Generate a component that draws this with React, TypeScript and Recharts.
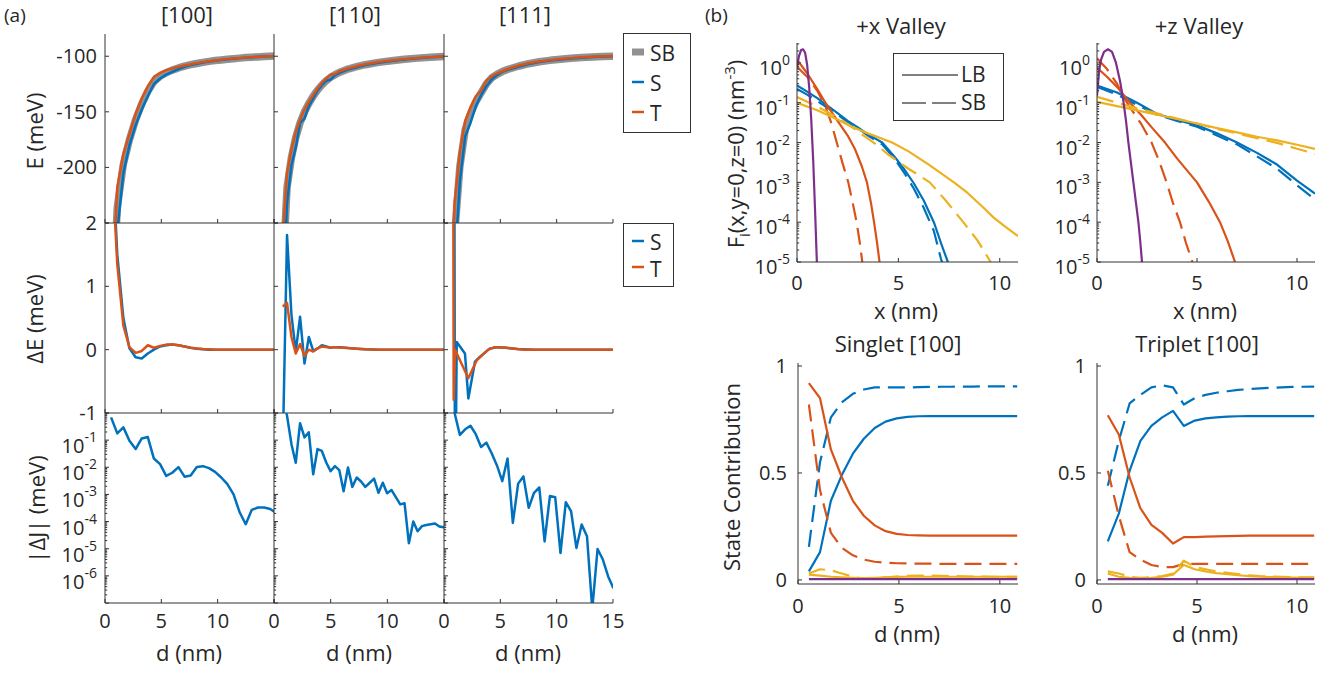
import React from 'react';
import { LineChart, Line, XAxis, YAxis } from 'recharts';

const FONT = '"Open Sans", "Noto Sans", sans-serif';
const AXIS = '#333333';
const INK = '#262626';
const BLUE = '#0072BD';
const ORANGE = '#D95319';
const YELLOW = '#EDB120';
const PURPLE = '#7E2F8E';
const GRAY = '#919191';
const DASH = '17 8';
const TICK_FS = 20;
const LABEL_FS = 22;

// ---------- (a) row 1: E (meV) vs d (nm) ----------
const d100 = [0.54, 1.09, 1.63, 2.17, 2.72, 3.26, 3.8, 4.34, 4.89, 5.43, 5.97, 6.52, 7.06, 7.6, 8.15, 8.69, 9.23, 9.77, 10.32, 10.86, 11.41, 11.95, 12.49, 13.03, 13.58, 14.12, 14.66, 15.2];
const eSB100 = [-350, -236, -197, -175, -157, -143, -131.5, -123, -118, -114.8, -112.5, -110.5, -108.9, -107.6, -106.5, -105.5, -104.6, -103.9, -103.3, -102.7, -102.2, -101.7, -101.2, -100.9, -100.6, -100.3, -100, -99.7];
const eS100 = [-380, -258, -205, -180, -162, -148, -136, -125, -120, -116.5, -114, -111.5, -109.5, -108, -106.7, -105.6, -104.7, -104, -103.3, -102.7, -102.2, -101.7, -101.3, -100.9, -100.6, -100.3, -100, -99.7];
const eT100 = [-330, -218, -188, -170, -152, -138, -127, -118.5, -115, -112.5, -111, -109.5, -108.3, -107.2, -106.2, -105.3, -104.5, -103.8, -103.2, -102.6, -102.1, -101.6, -101.2, -100.8, -100.5, -100.2, -99.9, -99.6];

const d110 = [0.77, 1.15, 1.54, 1.92, 2.3, 2.69, 3.07, 3.46, 3.84, 4.22, 4.61, 4.99, 5.38, 5.76, 6.53, 7.3, 8.06, 9.22, 10.37, 11.52, 12.67, 13.82, 14.98, 15.36];
const eSB110 = [-296, -218, -191, -173, -160, -150, -142.5, -136, -130.5, -126, -122, -119, -116.6, -114.6, -111.5, -109.4, -107.6, -105.5, -104, -102.8, -101.7, -100.9, -100.2, -100];
const eS110 = [-330, -232, -198, -182, -160, -156, -145, -138, -131, -126, -122, -121, -117, -115, -112, -110, -108, -105.8, -104.2, -102.9, -101.8, -100.9, -100.2, -100];
const eT110 = [-262, -205, -184, -168, -157, -148, -141, -135, -129, -124, -120, -116.5, -116, -113.5, -111, -109, -107.2, -105.2, -103.8, -102.6, -101.6, -100.8, -100.1, -99.9];

const d111S = [0.94, 1.41, 1.88, 2.35, 2.82, 3.29, 3.76, 4.23, 4.7, 5.17, 5.64, 6.58, 7.52, 8.46, 9.4, 10.34, 11.28, 12.22, 13.16, 14.1, 15.04];
const eS111 = [-290, -212, -172, -160, -145, -135, -127, -121, -117, -114, -112.3, -109.5, -107, -105.2, -103.9, -102.9, -102, -101.3, -100.7, -100.3, -100];
const d111T = [0.47, 0.94, 1.41, 1.88, 2.35, 2.82, 3.29, 3.76, 4.23, 4.7, 5.17, 5.64, 6.58, 7.52, 8.46, 9.4, 10.34, 11.28, 12.22, 13.16, 14.1, 15.04];
const eT111 = [-400, -232, -186, -158, -146, -136, -131, -122, -118, -115.5, -113.5, -111.5, -108.5, -106.3, -104.7, -103.5, -102.5, -101.7, -101, -100.5, -100.1, -99.8];
const eSB111 = [-400, -261, -199, -166, -152, -141, -133, -125, -119.5, -116.3, -113.8, -111.9, -109, -106.7, -105, -103.7, -102.7, -101.9, -101.2, -100.6, -100.2, -99.9];

// ---------- (a) row 2: ΔE (meV) ----------
const deS100 = [3.5, 1.5, 0.5, 0.02, -0.12, -0.14, -0.06, 0, 0.05, 0.07, 0.08, 0.07, 0.05, 0.03, 0.015, 0.005, 0, 0, 0, 0, 0, 0, 0, 0, 0, 0, 0, 0];
const deT100 = [3.2, 1.35, 0.38, 0.04, -0.05, -0.02, 0.07, 0.03, 0.06, 0.08, 0.08, 0.07, 0.05, 0.03, 0.02, 0.01, 0.005, 0, 0, 0, 0, 0, 0, 0, 0, 0, 0, 0];
const deS110 = [-1.6, 1.81, 0.55, -0.03, 0.52, -0.22, 0.2, -0.02, 0.02, 0.07, 0.05, 0.03, 0.04, 0.04, 0.025, 0.015, 0.005, 0, 0, 0, 0, 0, 0, 0];
const deT110 = [0.68, 0.74, 0.2, -0.06, 0.09, -0.1, 0, -0.03, 0.02, 0.05, 0.04, 0.03, 0.04, 0.035, 0.025, 0.015, 0.005, 0, 0, 0, 0, 0, 0, 0];
const dDS111 = [0.9, 0.98, 1.13, 1.86, 2.16, 2.75, 3.2, 4.08, 4.8, 5.5, 6.5, 8, 10, 12, 15.2];
const deS111 = [5, -3, 0.12, -0.06, -0.77, -0.19, -0.11, 0.02, 0.04, 0.03, 0.01, 0, 0, 0, 0];
const dDT111 = [0.8, 0.86, 0.98, 2.16, 2.9, 3.93, 4.5, 5.5, 7.1, 8.5, 10, 12, 15.2];
const deT111 = [5, -0.79, 0, -0.45, -0.17, 0, 0.04, 0.03, 0, 0, 0, 0, 0];

// ---------- (a) row 3: |ΔJ| (meV) ----------
const dj100 = [0.69, 0.178, 0.295, 0.095, 0.047, 0.115, 0.13, 0.021, 0.013, 0.0048, 0.0063, 0.0102, 0.0045, 0.005, 0.0102, 0.011, 0.0093, 0.0068, 0.0042, 0.0024, 0.001, 0.00022, 0.00008, 0.00027, 0.00033, 0.00033, 0.00029, 0.00021];
const dJ110 = [0.77, 1.15, 1.54, 1.92, 2.3, 2.69, 3.07, 3.46, 3.84, 4.22, 4.61, 4.99, 5.38, 5.76, 6.14, 6.53, 6.91, 7.3, 7.68, 8.06, 8.45, 8.83, 9.22, 9.6, 9.98, 10.37, 10.75, 11.14, 11.52, 11.9, 12.29, 12.67, 13.06, 13.44, 13.82, 14.21, 14.59, 14.98, 15.36];
const dj110 = [5, 0.79, 0.071, 0.0148, 0.42, 0.126, 0.195, 0.0055, 0.047, 0.04, 0.015, 0.0072, 0.011, 0.0079, 0.0013, 0.0098, 0.0019, 0.0042, 0.003, 0.0019, 0.0027, 0.0038, 0.00115, 0.0027, 0.0011, 0.00145, 0.0008, 0.00043, 0.00047, 0.000016, 0.0001, 0.000044, 0.000068, 0.000075, 0.00008, 0.000085, 0.000066, 0.000062, 0.00006];
const dJ111 = [0.47, 0.94, 1.41, 1.88, 2.35, 2.82, 3.29, 3.76, 4.23, 4.7, 5.17, 5.64, 6.11, 6.58, 7.05, 7.52, 7.99, 8.46, 8.93, 9.4, 9.87, 10.34, 10.81, 11.28, 11.75, 12.22, 12.69, 13.16, 13.63, 14.1, 14.57, 15.04];
const dj111 = [3, 1.0, 0.155, 0.25, 0.34, 0.166, 0.056, 0.081, 0.033, 0.0117, 0.0031, 0.021, 0.000089, 0.0025, 0.0046, 0.00032, 0.00115, 0.0018, 0.0000186, 0.00087, 0.00079, 0.0000069, 0.00052, 0.00024, 0.0000107, 0.000078, 0.000029, 0.00000006, 0.0000098, 0.000004, 0.00000095, 0.00000035];

// ---------- (b) envelope functions, +x valley ----------
const pxX = [0, 0.1, 0.2, 0.3, 0.4, 0.5, 0.6, 0.7, 0.8, 0.9, 1.0];
const pxY = [0.8, 1.5, 2.1, 2.2, 1.8, 0.9, 0.25, 0.04, 3.5e-3, 1.5e-4, 5e-6];
const bxX = [0, 0.5, 1.0, 1.5, 2.0, 2.5, 3.0, 3.5, 4.2, 4.8, 5.3, 5.76, 6.25, 6.75, 7.1, 7.44, 7.8];
const bxS = [0.27, 0.19, 0.13, 0.085, 0.055, 0.035, 0.024, 0.016, 0.01, 4.5e-3, 2.1e-3, 9.5e-4, 3.5e-4, 1e-4, 3e-5, 1e-5, 3e-6];
const bxD = [0.22, 0.16, 0.11, 0.075, 0.05, 0.033, 0.023, 0.015, 9e-3, 4e-3, 1.7e-3, 7e-4, 2.3e-4, 6e-5, 1.2e-5, 4e-6, 1e-6];
const oxX = [0, 0.5, 1.0, 1.4, 2.0, 2.5, 2.85, 3.2, 3.45, 3.65, 3.8, 3.95, 4.07, 4.2];
const oxS = [1.2, 0.55, 0.22, 0.1, 0.035, 0.015, 7e-3, 2.5e-3, 1e-3, 3e-4, 1e-4, 3e-5, 1e-5, 3e-6];
const odxX = [0, 0.5, 1.0, 1.4, 1.7, 1.96, 2.25, 2.53, 2.75, 2.94, 3.1, 3.22, 3.35];
const oxD = [0.8, 0.45, 0.2, 0.08, 0.03, 0.01, 3e-3, 1e-3, 3e-4, 1e-4, 3e-5, 1e-5, 3e-6];
const yxX = [0, 1.0, 2.0, 2.62, 3.5, 4.69, 5.5, 6.5, 7.74, 8.4, 9.2, 9.7, 10.3, 10.9];
const yxS = [0.1, 0.065, 0.038, 0.026, 0.017, 0.01, 6e-3, 2.8e-3, 1e-3, 5.5e-4, 2.3e-4, 1.3e-4, 7.5e-5, 4.5e-5];
const ydxX = [0, 1.0, 2.0, 2.6, 3.2, 3.78, 4.5, 5.5, 6.55, 7.4, 8.2, 8.9, 9.55, 10.2];
const yxD = [0.14, 0.08, 0.042, 0.027, 0.016, 0.01, 5e-3, 2.2e-3, 1e-3, 3.2e-4, 1e-4, 3.5e-5, 1e-5, 3e-6];

// ---------- (b) envelope functions, +z valley ----------
const pzX = [0, 0.1, 0.2, 0.35, 0.55, 0.75, 0.95, 1.15, 1.3, 1.45, 1.57, 1.7, 1.82, 1.95, 2.07, 2.17, 2.25, 2.35];
const pzY = [0.15, 0.6, 1.2, 1.9, 2.2, 1.9, 1.0, 0.35, 0.13, 0.035, 0.01, 3e-3, 1e-3, 3e-4, 1e-4, 3e-5, 1e-5, 2e-6];
const ozX = [0, 0.5, 1.0, 1.65, 2.2, 2.8, 3.4, 4.0, 4.5, 5.0, 5.6, 6.15, 6.55, 6.9, 7.2];
const ozS = [0.75, 0.45, 0.25, 0.1, 0.05, 0.022, 0.01, 4e-3, 2e-3, 1e-3, 3.2e-4, 1e-4, 3.2e-5, 1e-5, 3.5e-6];
const odzX = [0, 0.5, 1.0, 1.32, 1.7, 2.2, 2.73, 3.1, 3.48, 3.8, 4.15, 4.45, 4.77, 5.05];
const ozD = [1.3, 0.7, 0.3, 0.14, 0.07, 0.03, 0.01, 3.5e-3, 1e-3, 3e-4, 1e-4, 3e-5, 1e-5, 3e-6];
const zX = [0, 1, 2, 3, 4, 5, 6, 7, 8, 9, 10, 10.9];
const bzS = [0.27, 0.18, 0.1, 0.052, 0.037, 0.027, 0.017, 0.01, 5.5e-3, 2.8e-3, 1.1e-3, 5.2e-4];
const bzD = [0.25, 0.16, 0.088, 0.05, 0.035, 0.025, 0.015, 9e-3, 4.5e-3, 2.2e-3, 8.5e-4, 3.7e-4];
const yzS = [0.105, 0.082, 0.064, 0.05, 0.039, 0.03, 0.023, 0.018, 0.014, 0.0113, 8.8e-3, 6.9e-3];
const yzD = [0.14, 0.1, 0.072, 0.054, 0.04, 0.03, 0.022, 0.017, 0.0128, 0.0098, 7e-3, 5.2e-3];

// ---------- (b) state contributions vs d ----------
const dSC = [0.54, 1.09, 1.63, 2.17, 2.72, 3.26, 3.8, 4.34, 4.89, 5.43, 5.97, 6.52, 7.06, 7.6, 8.15, 8.69, 9.23, 9.77, 10.32, 10.86];
const sgB = [0.04, 0.13, 0.37, 0.49, 0.59, 0.66, 0.71, 0.74, 0.755, 0.762, 0.765, 0.766, 0.766, 0.766, 0.766, 0.766, 0.766, 0.766, 0.766, 0.766];
const sgBd = [0.155, 0.55, 0.76, 0.83, 0.87, 0.89, 0.9, 0.9, 0.9, 0.9, 0.901, 0.902, 0.903, 0.903, 0.904, 0.904, 0.905, 0.905, 0.905, 0.905];
const sgO = [0.92, 0.85, 0.61, 0.48, 0.37, 0.3, 0.255, 0.228, 0.215, 0.21, 0.208, 0.207, 0.207, 0.207, 0.207, 0.207, 0.207, 0.207, 0.207, 0.207];
const sgOd = [0.82, 0.42, 0.22, 0.15, 0.115, 0.095, 0.085, 0.08, 0.078, 0.077, 0.076, 0.076, 0.075, 0.075, 0.075, 0.075, 0.075, 0.075, 0.075, 0.075];
const sgY = [0.025, 0.02, 0.015, 0.012, 0.01, 0.008, 0.01, 0.012, 0.014, 0.015, 0.015, 0.015, 0.015, 0.015, 0.015, 0.015, 0.015, 0.015, 0.015, 0.015];
const sgYd = [0.03, 0.05, 0.045, 0.03, 0.015, 0.005, 0.008, 0.012, 0.016, 0.019, 0.02, 0.02, 0.019, 0.018, 0.017, 0.016, 0.016, 0.015, 0.015, 0.015];
const sgP = [0.004, 0.004, 0.004, 0.004, 0.004, 0.004, 0.004, 0.004, 0.004, 0.004, 0.004, 0.004, 0.004, 0.004, 0.004, 0.004, 0.004, 0.004, 0.004, 0.004];
const trB = [0.18, 0.31, 0.51, 0.65, 0.72, 0.76, 0.79, 0.72, 0.745, 0.755, 0.76, 0.763, 0.765, 0.766, 0.766, 0.766, 0.766, 0.766, 0.766, 0.766];
const trBd = [0.44, 0.65, 0.825, 0.865, 0.9, 0.91, 0.9, 0.82, 0.85, 0.865, 0.875, 0.882, 0.888, 0.892, 0.895, 0.898, 0.9, 0.902, 0.903, 0.904];
const trO = [0.77, 0.68, 0.48, 0.335, 0.257, 0.22, 0.17, 0.2, 0.2, 0.202, 0.204, 0.205, 0.206, 0.207, 0.207, 0.207, 0.207, 0.207, 0.207, 0.207];
const trOd = [0.51, 0.3, 0.13, 0.095, 0.07, 0.06, 0.06, 0.075, 0.075, 0.075, 0.075, 0.075, 0.075, 0.075, 0.075, 0.075, 0.075, 0.075, 0.075, 0.075];
const trY = [0.03, 0.015, 0.01, 0.008, 0.01, 0.015, 0.025, 0.07, 0.05, 0.04, 0.032, 0.027, 0.022, 0.018, 0.015, 0.013, 0.012, 0.011, 0.01, 0.01];
const trYd = [0.04, 0.03, 0.015, 0.01, 0.012, 0.018, 0.03, 0.09, 0.06, 0.05, 0.04, 0.033, 0.027, 0.022, 0.018, 0.016, 0.014, 0.013, 0.012, 0.012];
const trP = sgP;

// ---------- ticks ----------
const dTicks = [0, 5, 10, 15];
const xTicksB = [0, 5, 10];
const eTicks = [-250, -200, -150, -100];
const deTicks = [-1, 0, 1, 2];
const jDecades = [1e-7, 1e-6, 1e-5, 1e-4, 1e-3, 1e-2, 1e-1, 1];
const fDecades = [1e-5, 1e-4, 1e-3, 1e-2, 1e-1, 1];
const scTicks = [0, 0.5, 1];

const isMinor = (v: number) => Math.abs(Math.log10(v) - Math.round(Math.log10(v))) > 1e-6;
const withMinors = (decades: number[], top: number) => {
  const out: number[] = [];
  decades.forEach((m) => {
    for (let k = 1; k <= 9; k++) if (m * k <= top * 1.0001) out.push(m * k);
  });
  return out;
};

type Series = { xs: number[]; ys: number[]; color: string; width: number; dash?: string };
type Side = 'bottom' | 'top' | 'left' | 'right';
type LabelFn = (v: number) => React.ReactNode | null;

const toPts = (xs: number[], ys: number[]) => xs.map((x, i) => ({ x, y: ys[i] }));

// "10" on the baseline with the exponent raised; dy values are relative to the tick label baseline
const logLabel = (baseDy: number, supDy: number, lo: number, hi: number): LabelFn => (v) => {
  if (isMinor(v) || v < lo * 0.999 || v > hi * 1.001) return null;
  const e = Math.round(Math.log10(v));
  return (
    <>
      <tspan dy={baseDy}>10</tspan>
      <tspan dy={supDy} fontSize={14}>{String(e)}</tspan>
    </>
  );
};

function tickRenderer(side: Side, len: number, label?: LabelFn, gap = 0, logAxis = false) {
  return (p: any) => {
    const { x, y, payload } = p;
    const v = payload.value as number;
    const small = logAxis && isMinor(v);
    const l = small ? len * 0.55 : len;
    let x2 = x;
    let y2 = y;
    if (side === 'bottom') y2 = y - l;
    if (side === 'top') y2 = y + l;
    if (side === 'left') x2 = x + l;
    if (side === 'right') x2 = x - l;
    const content = label ? label(v) : null;
    return (
      <g>
        <line x1={x} y1={y} x2={x2} y2={y2} stroke={AXIS} strokeWidth={1} />
        {content != null && side === 'bottom' && (
          <text x={x} y={y + gap} textAnchor="middle" fontFamily={FONT} fontSize={TICK_FS} fill={INK}>
            {content}
          </text>
        )}
        {content != null && side === 'left' && (
          <text x={x - gap} y={y + 7} textAnchor="end" fontFamily={FONT} fontSize={TICK_FS} fill={INK}>
            {content}
          </text>
        )}
      </g>
    );
  };
}

interface PanelProps {
  left: number;
  top: number;
  width: number;
  height: number;
  xDomain: [number, number];
  yDomain: [number, number];
  xTicks: number[];
  yTicks: number[];
  xLabel?: LabelFn;
  yLabel?: LabelFn;
  xGap: number;
  yGap: number;
  log?: boolean;
  series: Series[];
}

function Panel(p: PanelProps) {
  const ML = 80;
  const MR = 18;
  const MT = 16;
  const MB = 50;
  const axisCommon = {
    type: 'number' as const,
    allowDataOverflow: true,
    interval: 0 as const,
    tickSize: 0,
    tickMargin: 0,
    tickLine: false,
    axisLine: { stroke: AXIS, strokeWidth: 1 },
  };
  return (
    <div style={{ position: 'absolute', left: p.left - ML, top: p.top - MT }}>
      <LineChart
        width={p.width + ML + MR}
        height={p.height + MT + MB}
        margin={{ top: MT, right: MR, bottom: 0, left: 0 }}
      >
        <XAxis {...axisCommon} xAxisId="b" dataKey="x" domain={p.xDomain} ticks={p.xTicks} height={MB}
          tick={tickRenderer('bottom', 4, p.xLabel, p.xGap)} />
        <XAxis {...axisCommon} xAxisId="t" orientation="top" dataKey="x" domain={p.xDomain} ticks={p.xTicks} height={0}
          tick={tickRenderer('top', 4)} />
        <YAxis {...axisCommon} yAxisId="l" scale={p.log ? 'log' : 'linear'} domain={p.yDomain} ticks={p.yTicks} width={ML}
          tick={tickRenderer('left', 4, p.yLabel, p.yGap, p.log)} />
        <YAxis {...axisCommon} yAxisId="r" orientation="right" scale={p.log ? 'log' : 'linear'} domain={p.yDomain} ticks={p.yTicks} width={0}
          tick={tickRenderer('right', 4, undefined, 0, p.log)} />
        {p.series.map((s, i) => (
          <Line
            key={i}
            xAxisId="b"
            yAxisId="l"
            data={toPts(s.xs, s.ys)}
            dataKey="y"
            type="linear"
            stroke={s.color}
            strokeWidth={s.width}
            strokeDasharray={s.dash}
            strokeLinejoin="round"
            dot={false}
            activeDot={false}
            isAnimationActive={false}
          />
        ))}
      </LineChart>
    </div>
  );
}

const COLS = [
  { left: 105, width: 169 },
  { left: 274, width: 170 },
  { left: 444, width: 169 },
];
const ROWS = [
  { top: 34, height: 189 },
  { top: 223, height: 190 },
  { top: 413, height: 190 },
];

const rowE: Series[][] = [
  [
    { xs: d100, ys: eSB100, color: GRAY, width: 7.5 },
    { xs: d100, ys: eS100, color: BLUE, width: 2.5 },
    { xs: d100, ys: eT100, color: ORANGE, width: 2.5 },
  ],
  [
    { xs: d110, ys: eSB110, color: GRAY, width: 7.5 },
    { xs: d110, ys: eS110, color: BLUE, width: 2.5 },
    { xs: d110, ys: eT110, color: ORANGE, width: 2.5 },
  ],
  [
    { xs: d111T, ys: eSB111, color: GRAY, width: 7.5 },
    { xs: d111S, ys: eS111, color: BLUE, width: 2.5 },
    { xs: d111T, ys: eT111, color: ORANGE, width: 2.5 },
  ],
];
const rowDE: Series[][] = [
  [
    { xs: d100, ys: deS100, color: BLUE, width: 2.5 },
    { xs: d100, ys: deT100, color: ORANGE, width: 2.5 },
  ],
  [
    { xs: d110, ys: deS110, color: BLUE, width: 2.5 },
    { xs: d110, ys: deT110, color: ORANGE, width: 2.5 },
  ],
  [
    { xs: dDS111, ys: deS111, color: BLUE, width: 2.5 },
    { xs: dDT111, ys: deT111, color: ORANGE, width: 2.5 },
  ],
];
const rowDJ: Series[][] = [
  [{ xs: d100, ys: dj100, color: BLUE, width: 2.5 }],
  [{ xs: dJ110, ys: dj110, color: BLUE, width: 2.5 }],
  [{ xs: dJ111, ys: dj111, color: BLUE, width: 2.5 }],
];

const LW = 2.2;
const valleyX: Series[] = [
  { xs: bxX, ys: bxS, color: BLUE, width: LW },
  { xs: bxX, ys: bxD, color: BLUE, width: LW, dash: DASH },
  { xs: oxX, ys: oxS, color: ORANGE, width: LW },
  { xs: odxX, ys: oxD, color: ORANGE, width: LW, dash: DASH },
  { xs: yxX, ys: yxS, color: YELLOW, width: LW },
  { xs: ydxX, ys: yxD, color: YELLOW, width: LW, dash: DASH },
  { xs: pxX, ys: pxY, color: PURPLE, width: LW },
];
const valleyZ: Series[] = [
  { xs: zX, ys: bzS, color: BLUE, width: LW },
  { xs: zX, ys: bzD, color: BLUE, width: LW, dash: DASH },
  { xs: ozX, ys: ozS, color: ORANGE, width: LW },
  { xs: odzX, ys: ozD, color: ORANGE, width: LW, dash: DASH },
  { xs: zX, ys: yzS, color: YELLOW, width: LW },
  { xs: zX, ys: yzD, color: YELLOW, width: LW, dash: DASH },
  { xs: pzX, ys: pzY, color: PURPLE, width: LW },
];
const singlet: Series[] = [
  { xs: dSC, ys: sgB, color: BLUE, width: LW },
  { xs: dSC, ys: sgBd, color: BLUE, width: LW, dash: DASH },
  { xs: dSC, ys: sgO, color: ORANGE, width: LW },
  { xs: dSC, ys: sgOd, color: ORANGE, width: LW, dash: DASH },
  { xs: dSC, ys: sgY, color: YELLOW, width: LW },
  { xs: dSC, ys: sgYd, color: YELLOW, width: LW, dash: DASH },
  { xs: dSC, ys: sgP, color: PURPLE, width: LW },
];
const triplet: Series[] = [
  { xs: dSC, ys: trB, color: BLUE, width: LW },
  { xs: dSC, ys: trBd, color: BLUE, width: LW, dash: DASH },
  { xs: dSC, ys: trO, color: ORANGE, width: LW },
  { xs: dSC, ys: trOd, color: ORANGE, width: LW, dash: DASH },
  { xs: dSC, ys: trY, color: YELLOW, width: LW },
  { xs: dSC, ys: trYd, color: YELLOW, width: LW, dash: DASH },
  { xs: dSC, ys: trP, color: PURPLE, width: LW },
];

const plain: LabelFn = (v) => String(v);

function Overlay() {
  const t = { fontFamily: FONT, fill: INK };
  return (
    <svg width={1340} height={675} style={{ position: 'absolute', left: 0, top: 0, pointerEvents: 'none' }}>
      <text x={4} y={22} fontSize={19} {...t}>(a)</text>
      <text x={705} y={22} fontSize={19} {...t}>(b)</text>

      <text x={187} y={23} fontSize={LABEL_FS} textAnchor="middle" {...t}>[100]</text>
      <text x={355} y={23} fontSize={LABEL_FS} textAnchor="middle" {...t}>[110]</text>
      <text x={525} y={23} fontSize={LABEL_FS} textAnchor="middle" {...t}>[111]</text>

      <text transform="translate(43,131) rotate(-90)" fontSize={LABEL_FS} textAnchor="middle" {...t}>E (meV)</text>
      <text transform="translate(43,319) rotate(-90)" fontSize={LABEL_FS} textAnchor="middle" {...t}>ΔE (meV)</text>
      <text transform="translate(45,509) rotate(-90)" fontSize={LABEL_FS} textAnchor="middle" {...t}>|ΔJ| (meV)</text>

      <text x={189} y={661} fontSize={LABEL_FS} textAnchor="middle" {...t}>d (nm)</text>
      <text x={359} y={661} fontSize={LABEL_FS} textAnchor="middle" {...t}>d (nm)</text>
      <text x={528} y={661} fontSize={LABEL_FS} textAnchor="middle" {...t}>d (nm)</text>

      <rect x={623.5} y={33.5} width={67} height={99} fill="#fff" stroke={AXIS} strokeWidth={1} />
      <line x1={632} x2={644} y1={52} y2={52} stroke={GRAY} strokeWidth={7} />
      <text x={650} y={61} fontSize={21} {...t}>SB</text>
      <line x1={632} x2={644} y1={82} y2={82} stroke={BLUE} strokeWidth={2.5} />
      <text x={650} y={91} fontSize={21} {...t}>S</text>
      <line x1={632} x2={644} y1={112} y2={112} stroke={ORANGE} strokeWidth={2.5} />
      <text x={650} y={121} fontSize={21} {...t}>T</text>

      <rect x={623.5} y={223.5} width={50} height={63} fill="#fff" stroke={AXIS} strokeWidth={1} />
      <line x1={632} x2={644} y1={241} y2={241} stroke={BLUE} strokeWidth={2.5} />
      <text x={650} y={250} fontSize={21} {...t}>S</text>
      <line x1={632} x2={644} y1={267} y2={267} stroke={ORANGE} strokeWidth={2.5} />
      <text x={650} y={277} fontSize={21} {...t}>T</text>

      <text x={901} y={34} fontSize={LABEL_FS} textAnchor="middle" {...t}>+x Valley</text>
      <text x={1199} y={34} fontSize={LABEL_FS} textAnchor="middle" {...t}>+z Valley</text>
      <text x={898} y={352} fontSize={LABEL_FS} textAnchor="middle" {...t}>Singlet [100]</text>
      <text x={1197} y={352} fontSize={LABEL_FS} textAnchor="middle" {...t}>Triplet [100]</text>

      <text transform="translate(744,154) rotate(-90)" fontSize={LABEL_FS} textAnchor="middle" {...t}>
        F<tspan dy={6} fontSize={15}>i</tspan>
        <tspan dy={-6}>(x,y=0,z=0) (nm</tspan>
        <tspan dy={-9} fontSize={15}>-3</tspan>
        <tspan dy={9}>)</tspan>
      </text>
      <text transform="translate(740,477) rotate(-90)" fontSize={LABEL_FS} textAnchor="middle" {...t}>State Contribution</text>

      <text x={906} y={319} fontSize={LABEL_FS} textAnchor="middle" {...t}>x (nm)</text>
      <text x={1205} y={319} fontSize={LABEL_FS} textAnchor="middle" {...t}>x (nm)</text>
      <text x={907} y={642} fontSize={LABEL_FS} textAnchor="middle" {...t}>d (nm)</text>
      <text x={1205} y={642} fontSize={LABEL_FS} textAnchor="middle" {...t}>d (nm)</text>

      <rect x={893.5} y={53.5} width={110} height={67} fill="#fff" stroke={AXIS} strokeWidth={1} />
      <line x1={902} x2={958} y1={75} y2={75} stroke="#808080" strokeWidth={2} />
      <text x={961} y={82} fontSize={21} {...t}>LB</text>
      <line x1={902} x2={958} y1={103} y2={103} stroke="#808080" strokeWidth={2} strokeDasharray="24 6" />
      <text x={961} y={110} fontSize={21} {...t}>SB</text>
    </svg>
  );
}

export default function App() {
  const jTicks = withMinors(jDecades, 1);
  const fTicks = withMinors(fDecades, 3.162);
  const jLabel = logLabel(6, -11, 1e-6, 1e-1);
  const fLabel = logLabel(5, -10, 1e-5, 1);
  return (
    <div style={{ position: 'absolute', left: 0, top: 0, width: 1340, height: 675, background: '#fff' }}>
      {COLS.map((c, ci) => (
        <React.Fragment key={ci}>
          <Panel
            left={c.left} top={ROWS[0].top} width={c.width} height={ROWS[0].height}
            xDomain={[0, 15]} yDomain={[-250, -80]} xTicks={dTicks} yTicks={eTicks}
            yLabel={ci === 0 ? (v) => (v === -250 ? null : String(v)) : undefined}
            xGap={25} yGap={8} series={rowE[ci]}
          />
          <Panel
            left={c.left} top={ROWS[1].top} width={c.width} height={ROWS[1].height}
            xDomain={[0, 15]} yDomain={[-1, 2]} xTicks={dTicks} yTicks={deTicks}
            yLabel={ci === 0 ? plain : undefined}
            xGap={25} yGap={8} series={rowDE[ci]}
          />
          <Panel
            left={c.left} top={ROWS[2].top} width={c.width} height={ROWS[2].height}
            xDomain={[0, 15]} yDomain={[1e-7, 1]} xTicks={dTicks} yTicks={jTicks} log
            xLabel={ci === 2 ? plain : (v) => (v < 15 ? String(v) : null)}
            yLabel={ci === 0 ? jLabel : undefined}
            xGap={25} yGap={8} series={rowDJ[ci]}
          />
        </React.Fragment>
      ))}
      <Panel
        left={797} top={43} width={221} height={219}
        xDomain={[0, 10.9]} yDomain={[1e-5, 3.162]} xTicks={xTicksB} yTicks={fTicks} log
        xLabel={plain} yLabel={fLabel} xGap={28} yGap={7} series={valleyX}
      />
      <Panel
        left={1097} top={43} width={218} height={219}
        xDomain={[0, 10.9]} yDomain={[1e-5, 3.162]} xTicks={xTicksB} yTicks={fTicks} log
        xLabel={plain} yLabel={fLabel} xGap={28} yGap={7} series={valleyZ}
      />
      <Panel
        left={798} top={363} width={220} height={221}
        xDomain={[0, 10.9]} yDomain={[-0.019, 1.014]} xTicks={xTicksB} yTicks={scTicks}
        xLabel={plain} yLabel={plain} xGap={29} yGap={11} series={singlet}
      />
      <Panel
        left={1097} top={363} width={218} height={221}
        xDomain={[0, 10.9]} yDomain={[-0.019, 1.014]} xTicks={xTicksB} yTicks={scTicks}
        xLabel={plain} yLabel={plain} xGap={29} yGap={11} series={triplet}
      />
      <Overlay />
    </div>
  );
}
